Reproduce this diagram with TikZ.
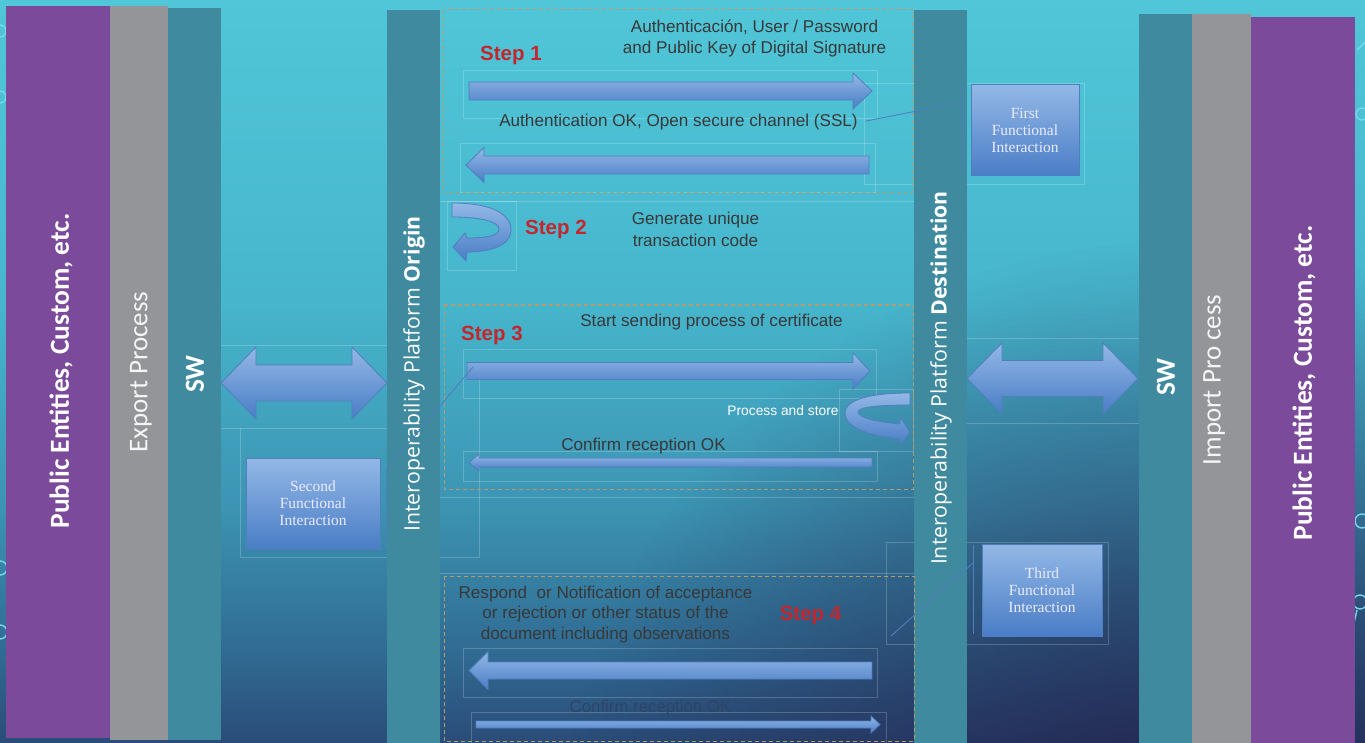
\documentclass[tikz,border=0pt]{standalone}
\usepackage{fontspec}
\usetikzlibrary{fadings}
\newfontfamily\arialf{Liberation Sans}
\newfontfamily\calf{Carlito}
\newfontfamily\osf{Open Sans}
\newfontfamily\serf{Liberation Serif}
\definecolor{bg1}{HTML}{50C6D8}
\definecolor{bg2}{HTML}{47B6CD}
\definecolor{bg3}{HTML}{3C94B3}
\definecolor{bg4}{HTML}{306A92}
\definecolor{bg5}{HTML}{2A4C78}
\definecolor{bgnavy}{HTML}{221E48}
\definecolor{purp}{HTML}{7B4A9B}
\definecolor{grayc}{HTML}{939598}
\definecolor{tealc}{HTML}{3F8A9E}
\definecolor{stepred}{HTML}{C4262D}
\definecolor{txtdark}{HTML}{383838}
\definecolor{arrtop}{HTML}{93B8E6}
\definecolor{arrbot}{HTML}{4A7DC6}
\definecolor{arrline}{HTML}{4F7FBE}
\definecolor{dashc}{HTML}{B59C6C}
\definecolor{ringc}{HTML}{7AD6EA}
\definecolor{fainttxt}{HTML}{2E4466}
\pgfdeclareverticalshading{bgv}{100bp}{color(0bp)=(bg5); color(25bp)=(bg5); color(31bp)=(bg4); color(41bp)=(bg3); color(55bp)=(bg2); color(75bp)=(bg1); color(100bp)=(bg1)}
\tikzfading[name=rfade, inner color=transparent!0, outer color=transparent!100]
\newcommand\blkR[6]{% x1 x2(tip) yc shaft-half head-half head-len
  \draw[barrow] (#1,{#3-#4}) -- ({#2-#6},{#3-#4}) -- ({#2-#6},{#3-#5}) -- (#2,#3) -- ({#2-#6},{#3+#5}) -- ({#2-#6},{#3+#4}) -- (#1,{#3+#4}) -- cycle;}
\newcommand\blkL[6]{% x1(tip) x2 yc shaft-half head-half head-len
  \draw[barrow] (#2,{#3-#4}) -- ({#1+#6},{#3-#4}) -- ({#1+#6},{#3-#5}) -- (#1,#3) -- ({#1+#6},{#3+#5}) -- ({#1+#6},{#3+#4}) -- (#2,{#3+#4}) -- cycle;}
\newcommand\blkD[6]{% x1 x2 yc shaft-half head-half head-len
  \draw[barrow] (#1,#3) -- ({#1+#6},{#3-#5}) -- ({#1+#6},{#3-#4}) -- ({#2-#6},{#3-#4}) -- ({#2-#6},{#3-#5}) -- (#2,#3) -- ({#2-#6},{#3+#5}) -- ({#2-#6},{#3+#4}) -- ({#1+#6},{#3+#4}) -- ({#1+#6},{#3+#5}) -- cycle;}
\begin{document}
\begin{tikzpicture}[x=1pt,y=-1pt,
  col/.style={inner sep=0pt, outer sep=0pt, draw=none, anchor=north west},
  vlab/.style={rotate=90, text=white, inner sep=0pt},
  barrow/.style={top color=arrtop, bottom color=arrbot, draw=arrline, line width=0.8pt, line join=miter},
  fbox/.style={draw=arrline, line width=1pt, top color=arrtop, bottom color=arrbot, inner sep=0pt, text=white!92!blue, font=\serf\fontsize{15.5}{17}\selectfont, align=center},
  steplab/.style={text=stepred, font=\arialf\bfseries\fontsize{20.5}{24}\selectfont, inner sep=0pt},
  msg/.style={text=txtdark, font=\arialf\fontsize{17.1}{21.3}\selectfont, align=center, inner sep=0pt},
  dbox/.style={draw=dashc, dashed, dash pattern=on 4pt off 3pt, line width=1pt},
  faint/.style={draw=white, draw opacity=0.2, line width=0.7pt},
  callout/.style={draw=arrline, line width=0.9pt},
  ring/.style={draw=ringc, line width=1.4pt}]
\useasboundingbox (0,0) rectangle (1365,743);
% background
\shade[shading=bgv] (0,0) rectangle (1365,743);
\begin{scope}
  \clip (0,0) rectangle (1365,743);
  \fill[bgnavy, path fading=rfade, fill opacity=0.85] (1180,860) circle (620);
  \draw[ring] (0,31) circle (6);
  \draw[ring] (0,97) circle (6);
  \draw[ring] (0,568) circle (7);
  \draw[ring] (0,632) circle (7);
  \draw[ring] (1362,114) circle (6);
  \draw[ring] (1362,521) circle (7);
  \draw[ring] (1360,602) circle (7);
  \draw[ring] (1357,50) -- (1365,42);
  \draw[ring] (1357,610) -- (1350,640);
\end{scope}
% faint guide rectangles
\draw[faint] (463,70) rectangle (877,118);
\draw[faint] (460,143) rectangle (875,192);
\draw[faint] (864,83) rectangle (1084,184);
\draw[faint] (447,201) rectangle (516,270);
\draw[faint] (440,201) -- (914,201);
\draw[faint] (463,349) rectangle (876,398);
\draw[faint] (463,451) rectangle (877,481);
\draw[faint] (839,389) rectangle (913,451);
\draw[faint] (221,345) -- (387,345);
\draw[faint] (221,428) -- (387,428);
\draw[faint] (240,428) -- (240,557) -- (479,557) -- (479,380);
\draw[faint] (967,338) -- (1139,338);
\draw[faint] (967,423) -- (1139,423);
\draw[faint] (440,497) -- (914,497);
\draw[faint] (440,573) -- (914,573);
\draw[faint] (463,648) rectangle (877,697);
\draw[faint] (471,712) rectangle (886,743);
\draw[faint] (886,542) rectangle (1108,644);
% columns left
\node[col, fill=purp, minimum width=104pt, minimum height=732pt] (pubL) at (6,6) {};
\node[col, fill=grayc, minimum width=58pt, minimum height=734pt] (expL) at (110,6) {};
\node[col, fill=tealc, minimum width=53pt, minimum height=732pt] (swL) at (168,8) {};
% interop columns
\node[col, fill=tealc, minimum width=53pt, minimum height=733pt] (orig) at (387,10) {};
\node[col, fill=tealc, minimum width=53pt, minimum height=733pt] (dest) at (914,10) {};
% columns right
\node[col, fill=tealc, minimum width=53pt, minimum height=729pt] (swR) at (1139,14) {};
\node[col, fill=grayc, minimum width=59pt, minimum height=729pt] (impR) at (1192,14) {};
\node[col, fill=purp, minimum width=104pt, minimum height=726pt] (pubR) at (1251,17) {};
% vertical labels
\node[vlab, font=\calf\bfseries\fontsize{27.5}{30}\selectfont] (pubLt) at (61,371) {Public Entities, Custom, etc.};
\node[vlab, text=white!92!gray, font=\calf\fontsize{27}{30}\selectfont] (expLt) at (141,372) {Export Process};
\node[vlab, font=\calf\bfseries\fontsize{27.5}{30}\selectfont] (swLt) at (195,374) {SW};
\node[vlab, font=\osf\fontsize{21.3}{24}\selectfont] (origt) at (414,374) {Interoperability Platform \textbf{Origin}};
\node[vlab, font=\osf\fontsize{21.3}{24}\selectfont] (destt) at (941,378) {Interoperability Platform \textbf{Destination}};
\node[vlab, font=\calf\bfseries\fontsize{27.5}{30}\selectfont] (swRt) at (1166,377) {SW};
\node[vlab, text=white!92!gray, font=\calf\fontsize{27}{30}\selectfont] (impRt) at (1214,380) {Import Pro cess};
\node[vlab, font=\calf\bfseries\fontsize{27.5}{30}\selectfont] (pubRt) at (1304,383) {Public Entities, Custom, etc.};
% dashed step boxes
\draw[dbox] (443,10) rectangle (912,193);
\draw[dbox] (444,305) rectangle (913,489);
\draw[dbox] (444,576) rectangle (914,741);
% step 1
\node[steplab] (s1) at (511,55) {Step 1};
\node[msg] (m1) at (754.5,38.5) {Authenticación, User / Password\\and Public Key of Digital Signature};
\blkR{469}{872}{91}{9}{18}{19}
\node[msg] (m2) at (678.5,122) {Authentication OK, Open secure channel (SSL)};
\blkL{466}{869}{165}{9}{17.5}{18}
% step 2
\draw[barrow] (452,203) .. controls (495,203) and (512,216) .. (511,231)
  .. controls (510,245) and (492,252) .. (467,252) -- (466,261) -- (453,247) -- (465,233) -- (467,238)
  .. controls (486,238) and (499,236) .. (499,229) .. controls (499,222) and (482,217) .. (452,217) -- cycle;
\node[steplab] (s2) at (556,229) {Step 2};
\node[msg] (m3) at (695.5,229.5) {Generate unique\\transaction code};
% step 3
\node[steplab] (s3) at (492,335) {Step 3};
\node[msg] (m4) at (711.5,322) {Start sending process of certificate};
\blkR{467}{870}{371}{8.5}{18}{17}
\node[text=white, font=\arialf\fontsize{13.8}{16}\selectfont, inner sep=0pt] (m5) at (783,411) {Process and store};
\draw[barrow] (910,393) .. controls (866,393) and (845,401) .. (845,413)
  .. controls (845,428) and (870,436) .. (900,439) -- (900,446) -- (910,432) -- (900,417) -- (900,424)
  .. controls (878,422) and (858,418) .. (858,412) .. controls (858,407) and (878,405) .. (910,405) -- cycle;
\node[msg] (m6) at (643.5,446) {Confirm reception OK};
\blkL{469}{872}{462.5}{4.5}{8.5}{10}
% step 4
\node[msg, font=\arialf\fontsize{17.1}{20.6}\selectfont] (m7) at (605.5,614.5) {Respond\ \ or Notification of acceptance\\or rejection or other status of the\\document including observations};
\node[steplab] (s4) at (810.5,615) {Step 4};
\blkL{469}{872}{670.5}{8.5}{19}{19}
\node[text=fainttxt, font=\arialf\fontsize{16.8}{20}\selectfont, inner sep=0pt] (m8) at (650.5,708) {Confirm reception OK};
\blkR{476}{880}{724.5}{3.5}{8.5}{9}
% double arrows
\blkD{221}{387}{383}{18}{36}{35}
\blkD{967}{1138}{378.5}{18}{35.5}{35}
% functional interaction boxes
\node[fbox, minimum width=108pt, minimum height=91pt] (fi1) at (1025,130.5) {First\\Functional\\Interaction};
\node[fbox, minimum width=134pt, minimum height=91pt] (fi2) at (313,503.5) {Second\\Functional\\Interaction};
\node[fbox, minimum width=120pt, minimum height=92pt] (fi3) at (1042,590) {Third\\Functional\\Interaction};
% callout lines
\coordinate (c1a) at (963,86);
\coordinate (c1b) at (963,175);
\coordinate (c1k) at (963,102);
\coordinate (c1e) at (866,121);
\draw[callout] (c1a) -- (c1b);
\draw[callout] (c1k) -- (c1e);
\coordinate (c2a) at (386,470);
\coordinate (c2b) at (386,548);
\coordinate (c2e) at (473,367);
\draw[callout] (c2a) -- (c2b);
\draw[callout] (c2a) -- (c2e);
\coordinate (c3a) at (973,545);
\coordinate (c3b) at (973,634);
\coordinate (c3k) at (973,563);
\coordinate (c3e) at (891,636);
\draw[callout] (c3a) -- (c3b);
\draw[callout] (c3k) -- (c3e);
\end{tikzpicture}
\end{document}
